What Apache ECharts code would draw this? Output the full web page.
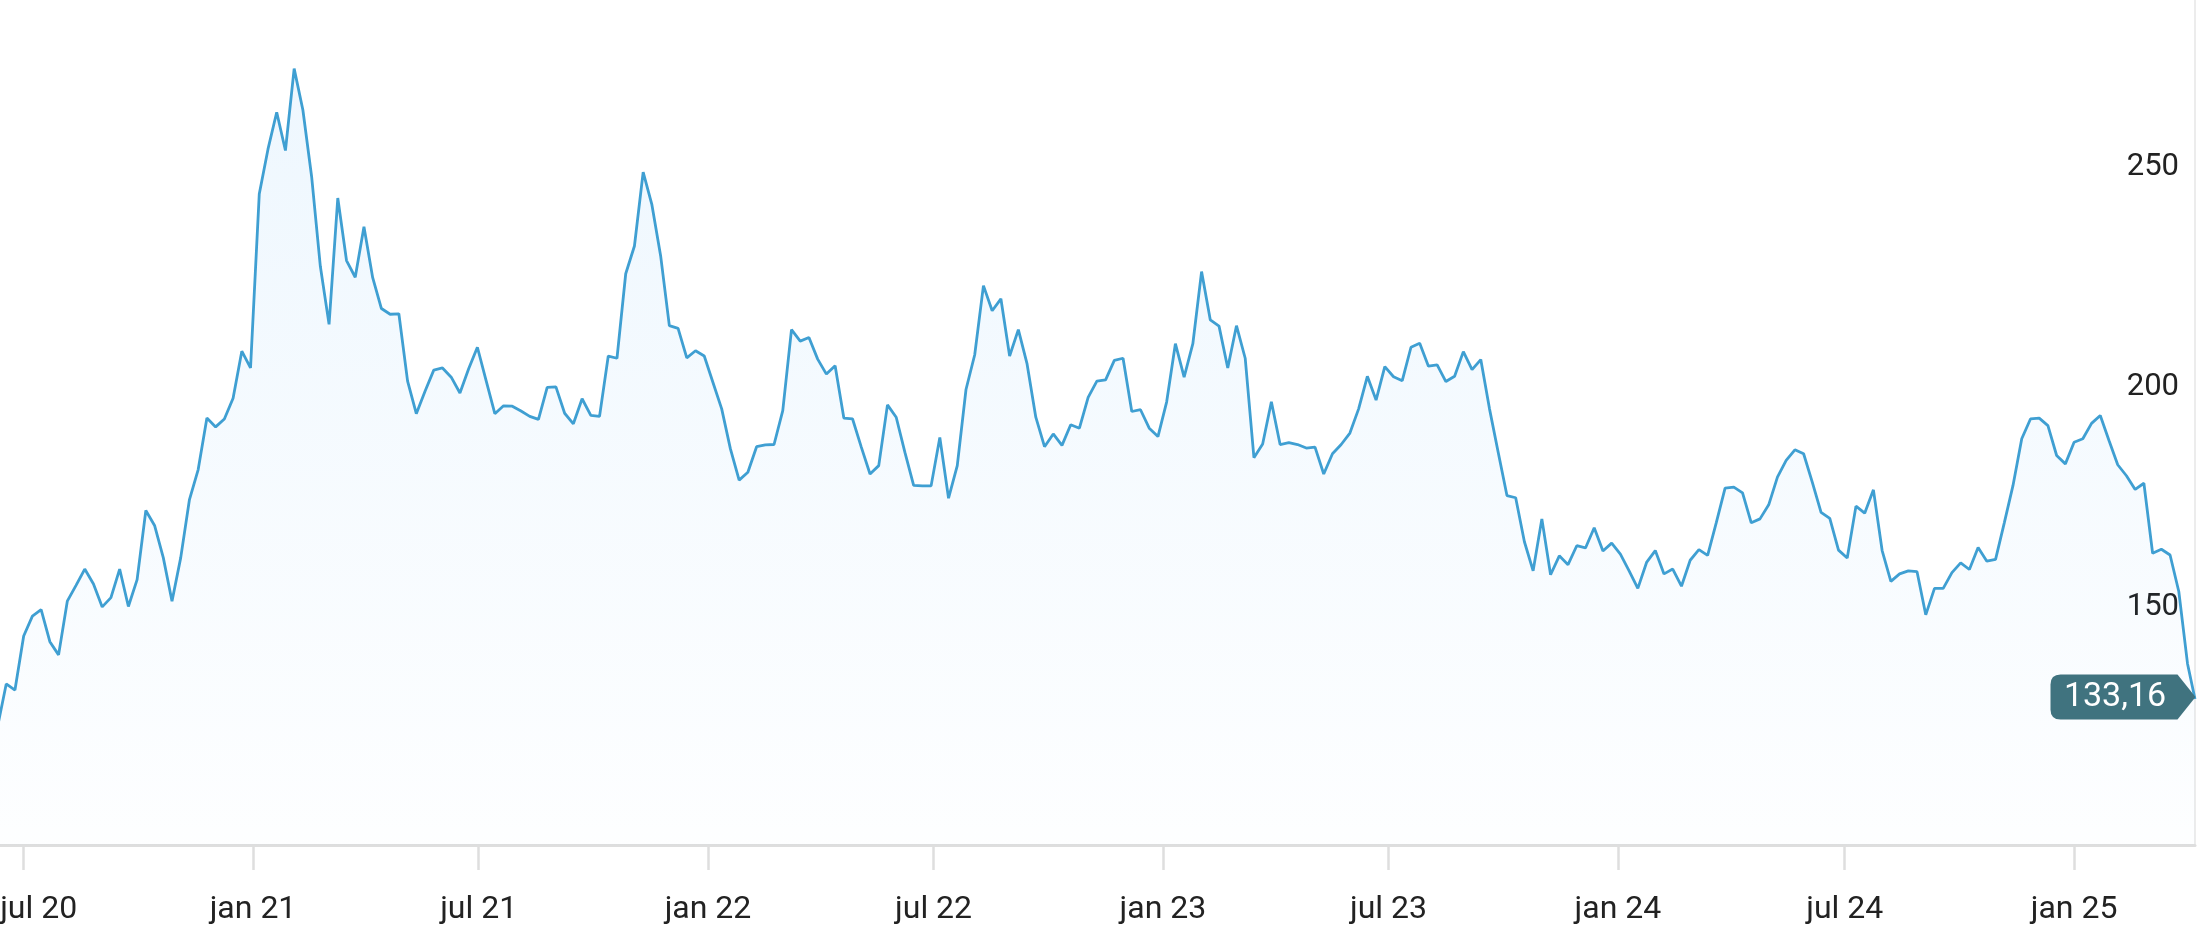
<!DOCTYPE html>
<html>
<head>
<meta charset="utf-8">
<script src="https://cdn.jsdelivr.net/npm/echarts@6/dist/echarts.min.js"></script>
<style>
html,body{margin:0;padding:0;background:#ffffff;}
#chart{width:2198px;height:946px;}
</style>
</head>
<body>
<div id="chart"></div>
<script>
// ---- data ----
const firstDate = '2020-06-10';   // weekly points start here (first one is just left of the view)
const axisStart = '2020-06-12';
const lastDate = '2025-04-08';    // final (partial week) point
const prices = [
  126.8, 136.6, 135.2, 147.5, 152.0, 153.5, 146.2, 143.2, 155.4, 159.0,
  162.7, 159.3, 154.1, 156.2, 162.7, 154.2, 160.3, 176.0, 172.6, 165.3,
  155.4, 165.3, 178.5, 185.3, 197.0, 195.0, 196.8, 201.5, 212.2, 208.4,
  247.9, 258.1, 266.5, 257.8, 276.4, 267.0, 251.9, 231.5, 218.3, 247.0,
  232.8, 229.0, 240.5, 228.9, 221.9, 220.6, 220.7, 205.4, 198.0, 203.1,
  207.9, 208.4, 206.3, 202.7, 208.2, 213.1, 205.5, 198.0, 199.8, 199.7,
  198.6, 197.4, 196.7, 204.0, 204.1, 198.1, 195.7, 201.4, 197.6, 197.4,
  211.1, 210.6, 229.8, 236.1, 252.9, 245.5, 233.9, 218.0, 217.4, 210.7,
  212.3, 211.1, 205.1, 199.1, 190.0, 182.9, 184.7, 190.5, 190.9, 191.0,
  198.7, 217.1, 214.5, 215.3, 210.4, 207.0, 208.9, 197.0, 196.8, 190.4,
  184.3, 186.2, 200.0, 197.2, 189.2, 181.7, 181.6, 181.6, 192.6, 178.8,
  186.2, 203.5, 211.4, 227.1, 221.4, 224.1, 211.1, 217.1, 209.3, 197.2,
  190.5, 193.4, 190.8, 195.5, 194.7, 201.7, 205.4, 205.7, 210.1, 210.6,
  198.5, 198.9, 194.7, 192.8, 200.7, 213.9, 206.3, 213.9, 230.3, 219.3,
  217.9, 208.4, 218.0, 210.6, 188.0, 191.1, 200.7, 191.0, 191.4, 191.0,
  190.2, 190.4, 184.3, 188.9, 191.0, 193.6, 199.1, 206.5, 201.1, 208.7,
  206.4, 205.5, 213.1, 214.0, 208.8, 209.1, 205.3, 206.5, 212.1, 208.0,
  210.3, 199.1, 189.2, 179.4, 178.9, 168.9, 162.3, 174.1, 161.4, 165.7,
  163.7, 168.0, 167.5, 172.1, 166.8, 168.6, 166.1, 162.3, 158.3, 164.2,
  166.9, 161.6, 162.7, 158.8, 164.7, 167.1, 165.8, 173.3, 181.1, 181.3,
  180.0, 173.2, 174.1, 177.3, 183.6, 187.4, 189.8, 188.9, 182.4, 175.6,
  174.2, 167.0, 165.2, 177.0, 175.4, 180.7, 166.9, 159.9, 161.6, 162.3,
  162.1, 152.3, 158.3, 158.3, 161.9, 164.1, 162.6, 167.6, 164.5, 164.9,
  173.2, 181.7, 192.3, 196.8, 197.0, 195.3, 188.5, 186.6, 191.5, 192.3,
  195.8, 197.6, 191.9, 186.4, 183.9, 180.8, 182.2, 166.3, 167.2, 165.9,
  157.6, 141.2,
  133.16
];
const tickDates = ['2020-07-01','2021-01-01','2021-07-01','2022-01-01','2022-07-01',
                   '2023-01-01','2023-07-01','2024-01-01','2024-07-01','2025-01-01'];
const tickLabels = ['jul 20','jan 21','jul 21','jan 22','jul 22',
                    'jan 23','jul 23','jan 24','jul 24','jan 25'];
const yTicks = [150, 200, 250];
const lastLabel = '133,16';

// ---- build ----
const DAY = 86400000;
function ts(s){ const p = s.split('-').map(Number); return Date.UTC(p[0], p[1]-1, p[2]); }
const xs = prices.map((_, i) => i < prices.length - 1 ? ts(firstDate) + i * 7 * DAY : ts(lastDate));
const seriesData = prices.map((v, i) => [xs[i], v]);
const tickValues = tickDates.map(ts);

const chart = echarts.init(document.getElementById('chart'), null, {renderer:'canvas'});
const FONT = 'Roboto';
chart.setOption({
  animation: false,
  backgroundColor: '#ffffff',
  grid: {left: 0, right: 3, top: 0, bottom: 101, containLabel: false, outerBoundsMode: 'none'},
  xAxis: {
    type: 'value',
    min: ts(axisStart),
    max: ts(lastDate),
    axisLine: {show: true, onZero: false, lineStyle: {color: '#dedede', width: 3}},
    axisTick: {show: true, customValues: tickValues, length: 25, lineStyle: {color: '#dedede', width: 2.5}},
    axisLabel: {
      show: true,
      customValues: tickValues,
      formatter: function (v) {
        const i = tickValues.indexOf(v);
        if (i < 0) return '';
        return i === 0 ? '{first|' + tickLabels[i] + '}' : tickLabels[i];
      },
      rich: {
        first: {padding: [0, 0, 0, 30], fontSize: 32, color: '#222222', fontFamily: FONT}
      },
      margin: 49, color: '#222222', fontSize: 32, fontFamily: FONT
    },
    splitLine: {show: false}
  },
  yAxis: {
    type: 'value',
    position: 'right',
    min: 100,
    max: 292,
    axisLine: {show: true, lineStyle: {color: '#ececec', width: 2}},
    axisTick: {show: false},
    splitLine: {show: false},
    axisLabel: {
      show: true, inside: true, customValues: yTicks,
      margin: 16, verticalAlign: 'bottom', padding: [0, 0, 2, 0],
      color: '#222222', fontSize: 31, fontFamily: FONT
    }
  },
  series: [{
    type: 'line',
    data: seriesData,
    showSymbol: false,
    symbol: 'none',
    clip: true,
    lineStyle: {color: '#3f9fd2', width: 2.8},
    itemStyle: {color: '#3f9fd2'},
    areaStyle: {
      color: new echarts.graphic.LinearGradient(0, 0, 0, 1, [
        {offset: 0, color: 'rgba(33,150,243,0.11)'},
        {offset: 1, color: 'rgba(33,150,243,0.01)'}
      ])
    },
    markPoint: {
      symbol: 'path://M10,0L127,0L145,22.5L127,45L10,45Q0,45,0,35L0,10Q0,0,10,0Z',
      symbolSize: [145, 45],
      symbolOffset: [-72, -2],
      symbolKeepAspect: false,
      itemStyle: {color: '#40737f'},
      label: {show: true, formatter: lastLabel, color: '#ffffff', fontSize: 34, fontFamily: FONT, offset: [-8, 0]},
      data: [{coord: [xs[xs.length - 1], prices[prices.length - 1]]}]
    }
  }]
});
</script>
</body>
</html>
